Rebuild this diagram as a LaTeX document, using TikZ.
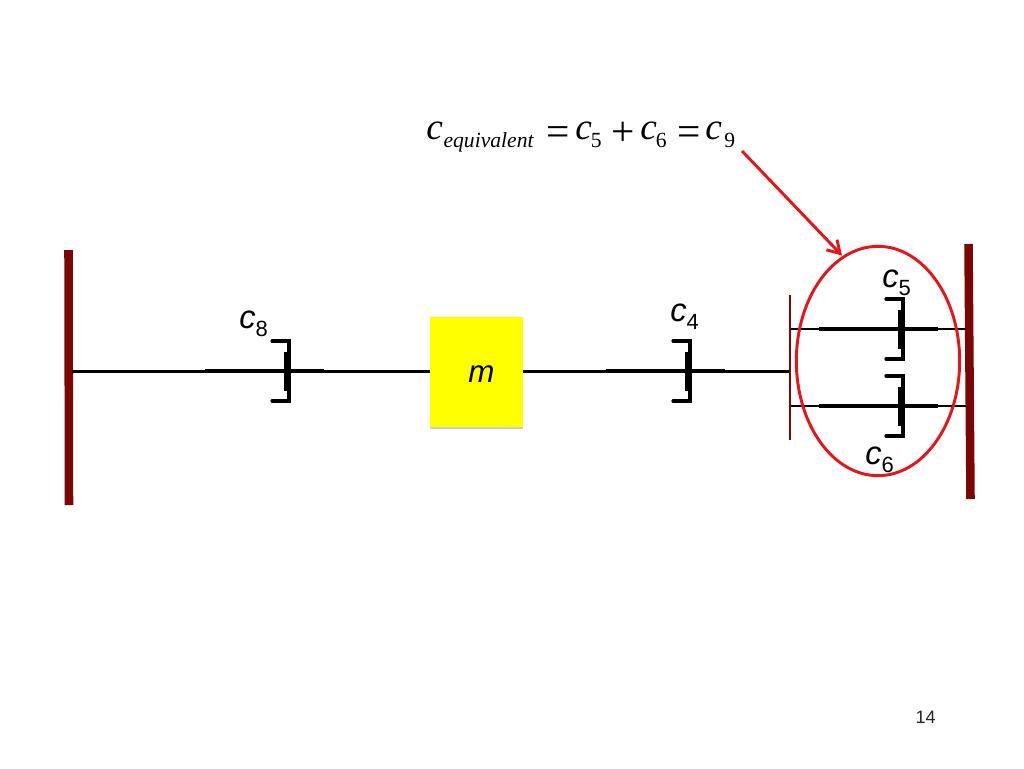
\documentclass[tikz,border=0pt]{standalone}
\usepackage{fontspec}
\setmainfont{Liberation Sans}
\newfontfamily\serifeq{Liberation Serif}
\usetikzlibrary{arrows.meta,shadows,shapes.geometric}
\definecolor{wallred}{RGB}{122,6,6}
\definecolor{massyellow}{RGB}{255,255,0}
\definecolor{ringred}{RGB}{232,20,28}
\tikzset{
  x=0.75pt,y=-0.75pt,
  wire/.style={draw=black,line width=2.1pt},
  rodline/.style={draw=black,line width=2.4pt},
  bracketline/.style={draw=black,line width=2.4pt,line cap=round,line join=miter},
  plateline/.style={draw=black,line width=3.2pt},
  wallbar/.style={draw=wallred,line width=6.4pt},
  thinbar/.style={draw=wallred,line width=2.2pt},
  clabel/.style={inner sep=0pt,anchor=base west,font=\fontsize{24.5}{26}\selectfont},
  eqtext/.style={inner sep=0pt,anchor=base west},
  pt/.style={inner sep=0pt,minimum size=0pt}
}
% #1 name, #2 plate x, #3 rod y
\newcommand{\dashpotdraw}[3]{%
  \coordinate (#1rl) at (#2-81,#3);
  \coordinate (#1rr) at (#2+38,#3);
  \draw[rodline] (#1rl) -- (#1rr);
  \coordinate (#1pt) at (#2,#3-19);
  \coordinate (#1pb) at (#2,#3+20);
  \draw[plateline] (#1pt) -- (#1pb);
  \coordinate (#1bt) at (#2-14,#3-30);
  \coordinate (#1bb) at (#2-14,#3+30);
  \draw[bracketline] (#1bt) -- ++(17,0) -- ++(0,60) -- (#1bb);
}
\newcommand{\clab}[2]{\textit{#1}\raisebox{-6pt}{\fontsize{16.5}{18}\selectfont #2}}
\newcommand{\eqat}[2]{\rlap{\hspace*{#1pt}#2}}
\newcommand{\eqc}{\fontsize{28}{29}\selectfont\itshape c}
\newcommand{\eqop}[1]{\raisebox{-4.5pt}{\fontsize{31}{32}\selectfont #1}}
\newcommand{\eqsub}[1]{\raisebox{-6pt}{\fontsize{16.2}{17}\selectfont #1}}
\begin{document}
\begin{tikzpicture}
\useasboundingbox (0,0) rectangle (1024,768);
\fill[white] (0,0) rectangle (1024,768);
% walls
\coordinate (wlt) at (68.5,250); \coordinate (wlb) at (69,505);
\coordinate (wrt) at (968.5,244); \coordinate (wrb) at (970.5,499);
\draw[wallbar] (wlt) -- (wlb);
\draw[wallbar] (wrt) -- (wrb);
\coordinate (tbt) at (790,295); \coordinate (tbb) at (790,440);
\draw[thinbar] (tbt) -- (tbb);
% anchors on the bars
\coordinate (wlm) at (72,371.5);
\coordinate (tbm) at (789,371.5);
\coordinate (tbu) at (791,329);
\coordinate (tbl) at (791,406);
\coordinate (wru) at (966,329);
\coordinate (wrl) at (966,406);
% mass
\node[pt,fill=massyellow,minimum width=70pt,minimum height=82pt,
  drop shadow={shadow xshift=0pt,shadow yshift=-2pt,opacity=0.4}] (mass) at (476.5,372) {};
% wires
\draw[wire] (wlm) -- (mass.west |- wlm);
\draw[wire] (mass.east |- tbm) -- (tbm);
\draw[wire] (tbu) -- (wru);
\draw[wire] (tbl) -- (wrl);
% dashpots
\dashpotdraw{ce}{286}{371}
\dashpotdraw{cf}{687}{371}
\dashpotdraw{cg}{900}{329}
\dashpotdraw{ch}{900}{406}
% mass label
\node[inner sep=0pt,anchor=base west,font=\fontsize{23.5}{24}\selectfont\itshape] (mlabel) at (468,382) {m};
% c labels
\node[clabel] (lc8) at (239,328) {\clab{c}{8}};
\node[clabel] (lc4) at (670,321) {\clab{c}{4}};
\node[clabel] (lc5) at (882,287) {\clab{c}{5}};
\node[clabel] (lc6) at (865,464) {\clab{c}{6}};
% ellipse
\node[draw=ringred,line width=2.2pt,ellipse,pt,minimum width=122.5pt,minimum height=172pt] (ring) at (878,361) {};
% equation
\node[eqtext] (eq) at (426,139) {\serifeq
  \eqat{0}{\eqc}%
  \eqat{13}{\eqsub{\itshape equivalent}}%
  \eqat{90}{\eqop{=}}%
  \eqat{111.75}{\eqc}%
  \eqat{123.5}{\eqsub{5}}%
  \eqat{138.75}{\eqop{+}}%
  \eqat{160.5}{\eqc}%
  \eqat{172.25}{\eqsub{6}}%
  \eqat{188.25}{\eqop{=}}%
  \eqat{209.25}{\eqc}%
  \eqat{223.5}{\eqsub{9}}\hspace*{232pt}};
% arrow
\coordinate (arrs) at (742,151);
\coordinate (arre) at (842,255.5);
\draw[draw=ringred,line width=2.2pt,-{Straight Barb[length=9pt,width=11pt,line width=2.2pt]}] (arrs) -- (arre);
% page number
\node[inner sep=0pt,font=\fontsize{13.5}{14}\selectfont,text=black!85] (page) at (925.5,717) {14};
\end{tikzpicture}
\end{document}
